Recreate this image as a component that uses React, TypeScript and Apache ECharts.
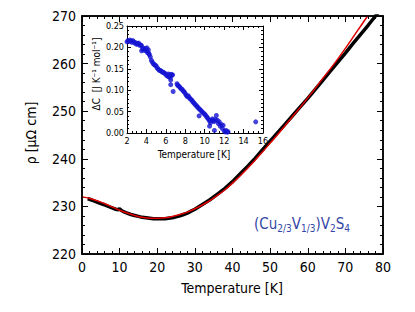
import React, { useEffect, useRef } from "react";
import * as echarts from "echarts";

// Main panel: measured resistivity (black) and fit (red)
const dataT = [1.5, 2, 3, 4, 5, 6, 7, 8, 9, 9.6, 10, 10.4, 11, 12, 13, 14, 15, 16, 17, 18, 19, 20, 21, 22, 23, 24, 25, 26, 27, 28, 29, 30, 32, 34, 36, 38, 40, 42, 44, 46, 48, 50, 52, 54, 56, 58, 60, 62, 64, 66, 68, 70, 72, 74, 76, 78, 79];
const dataRho = [231.6, 231.5, 231.2, 230.9, 230.6, 230.3, 230.0, 229.7, 229.4, 229.3, 229.5, 229.2, 228.9, 228.6, 228.3, 228.1, 227.9, 227.7, 227.6, 227.5, 227.4, 227.4, 227.4, 227.4, 227.5, 227.6, 227.8, 228.0, 228.3, 228.6, 229.0, 229.4, 230.4, 231.4, 232.6, 233.8, 235.2, 236.8, 238.4, 240.1, 241.9, 243.7, 245.5, 247.3, 249.1, 250.9, 252.7, 254.6, 256.5, 258.4, 260.3, 262.2, 264.2, 266.1, 268.0, 270.0, 271.0];

const fitT = [0, 2, 4, 6, 8, 10, 12, 14, 16, 18, 20, 22, 24, 26, 28, 30, 32, 34, 36, 38, 40, 42, 44, 46, 48, 50, 52, 54, 56, 58, 60, 62, 64, 66, 68, 70, 72, 74, 76, 78];
const fitRho = [232.0, 231.7, 231.2, 230.6, 229.9, 229.2, 228.6, 228.1, 227.7, 227.5, 227.5, 227.6, 227.9, 228.3, 228.8, 229.5, 230.3, 231.2, 232.3, 233.5, 234.9, 236.4, 238.0, 239.7, 241.5, 243.3, 245.1, 247.0, 248.9, 250.8, 252.8, 254.8, 256.9, 258.9, 261.0, 263.2, 265.5, 267.8, 270.1, 272.4];

// Inset: ΔC vs temperature
const insetT = [2.0, 2.1, 2.2, 2.3, 2.4, 2.5, 2.6, 2.7, 2.8, 2.9, 3.0, 3.1, 3.2, 3.3, 3.4, 3.5, 3.5, 3.6, 3.7, 3.8, 3.9, 4.0, 4.05, 4.1, 4.2, 4.25, 4.3, 4.4, 4.5, 4.6, 4.7, 4.8, 4.9, 5.0, 5.1, 5.2, 5.3, 5.4, 5.5, 5.6, 5.7, 5.8, 5.9, 6.0, 6.1, 6.2, 6.25, 6.3, 6.4, 6.45, 6.5, 6.55, 6.6, 6.7, 6.5, 6.5, 6.75, 7.15, 7.2, 7.3, 7.4, 7.5, 7.6, 7.7, 7.8, 7.9, 8.0, 8.1, 8.2, 8.3, 8.4, 8.5, 8.6, 8.7, 8.8, 8.9, 9.0, 9.1, 9.2, 9.3, 9.4, 9.42, 9.5, 9.6, 9.7, 9.8, 9.9, 10.0, 10.1, 10.2, 10.3, 10.4, 10.5, 10.5, 10.6, 10.7, 10.8, 10.9, 11.0, 11.0, 11.1, 11.2, 11.3, 11.4, 11.5, 11.6, 11.7, 11.8, 11.9, 12.0, 12.1, 12.2, 12.3, 12.4, 15.25];
const insetDC = [0.213, 0.216, 0.214, 0.217, 0.215, 0.212, 0.216, 0.213, 0.210, 0.211, 0.207, 0.209, 0.210, 0.205, 0.206, 0.204, 0.192, 0.196, 0.198, 0.193, 0.197, 0.192, 0.199, 0.188, 0.194, 0.186, 0.183, 0.178, 0.170, 0.166, 0.162, 0.160, 0.158, 0.157, 0.152, 0.150, 0.147, 0.146, 0.145, 0.143, 0.142, 0.141, 0.139, 0.137, 0.134, 0.133, 0.138, 0.131, 0.136, 0.130, 0.134, 0.137, 0.135, 0.136, 0.124, 0.113, 0.097, 0.115, 0.112, 0.110, 0.108, 0.105, 0.103, 0.101, 0.098, 0.096, 0.092, 0.088, 0.085, 0.087, 0.083, 0.080, 0.078, 0.076, 0.072, 0.070, 0.067, 0.065, 0.062, 0.060, 0.057, 0.040, 0.055, 0.053, 0.050, 0.048, 0.046, 0.044, 0.041, 0.038, 0.035, 0.032, 0.028, 0.016, 0.024, 0.030, 0.033, 0.028, 0.027, 0.006, 0.032, 0.041, 0.030, 0.022, 0.026, 0.016, 0.020, 0.011, 0.018, 0.005, 0.003, 0.006, 0.002, 0.003, 0.026];

const mainXTicks = { min: 0, max: 80, interval: 10 };
const mainYTicks = { min: 220, max: 270, interval: 10 };
const insetXTicks = { min: 2, max: 16, interval: 2 };
const insetYTicks = { min: 0, max: 0.25, interval: 0.05 };

const FONT = "DejaVu Sans Condensed";

export default function App() {
  const ref = useRef<HTMLDivElement>(null);
  useEffect(() => {
    if (!ref.current) return;
    document.body.style.margin = "0";
    const chart = echarts.init(ref.current, null, { renderer: "svg" });
    const mk = (
      gridIndex: number,
      pos: string,
      ticks: any,
      lineWidth: number,
      tickLen: number,
      fontSize: number,
      margin: number,
      showLabel: boolean,
      minorSplit: number,
      fmt?: (v: number) => string
    ) => ({
      type: "value",
      gridIndex,
      position: pos,
      ...ticks,
      axisLine: { show: true, onZero: false, lineStyle: { color: "#000", width: lineWidth } },
      axisTick: { show: true, inside: true, length: tickLen, lineStyle: { color: "#000", width: 1 } },
      minorTick: { show: true, splitNumber: minorSplit, length: Math.round(tickLen / 2), lineStyle: { color: "#000", width: 1 } },
      splitLine: { show: false },
      axisLabel: {
        show: true,
        fontFamily: FONT,
        fontSize,
        color: "#000",
        margin,
        formatter: showLabel ? (fmt ? fmt : (v: number) => String(v)) : () => "",
      },
    });
    const mainRect = { left: 82, top: 16, width: 301, height: 238 };
    const insetRect = { left: 127, top: 26, width: 136, height: 107 };
    chart.setOption({
      animation: false,
      backgroundColor: "#fff",
      grid: [
        { ...mainRect, show: false },
        { ...insetRect, show: false },
        { ...mainRect, show: false },
        { ...insetRect, show: false },
      ],
      xAxis: [
        mk(0, "bottom", mainXTicks, 1.5, 6, 14, 6, true, 5),
        mk(1, "bottom", insetXTicks, 1, 4, 9, 3, true, 4),
        mk(2, "top", mainXTicks, 1.5, 6, 9, 3, false, 5),
        mk(3, "top", insetXTicks, 1, 4, 9, 3, false, 4),
      ],
      yAxis: [
        mk(0, "left", mainYTicks, 1.5, 6, 14, 6, true, 5),
        mk(1, "left", insetYTicks, 1, 4, 9, 3, true, 5, (v: number) => v.toFixed(2)),
        mk(2, "right", mainYTicks, 1.5, 6, 9, 3, false, 5),
        mk(3, "right", insetYTicks, 1, 4, 9, 3, false, 5),
      ],
      series: [
        {
          type: "line",
          xAxisIndex: 0,
          yAxisIndex: 0,
          data: dataT.map((t, i) => [t, dataRho[i]]),
          showSymbol: false,
          lineStyle: { color: "#000", width: 3.5 },
          z: 2,
        },
        {
          type: "line",
          xAxisIndex: 2,
          yAxisIndex: 2,
          data: fitT.map((t, i) => [t, fitRho[i]]),
          showSymbol: false,
          smooth: 0.3,
          lineStyle: { color: "#e00000", width: 1.5 },
          z: 3,
        },
        {
          type: "scatter",
          xAxisIndex: 1,
          yAxisIndex: 1,
          data: insetT.map((t, i) => [t, insetDC[i]]),
          symbolSize: 5,
          itemStyle: { color: "#1414d2" },
          z: 5,
        },
      ],
    });

    // Frame of the main panel, placed through the library's own scales
    const tl = chart.convertToPixel({ gridIndex: 0 }, [mainXTicks.min, mainYTicks.max]) as number[];
    const br = chart.convertToPixel({ gridIndex: 0 }, [mainXTicks.max, mainYTicks.min]) as number[];

    chart.setOption({
      graphic: [
        {
          type: "rect",
          z: 100,
          silent: true,
          shape: { x: tl[0], y: tl[1], width: br[0] - tl[0], height: br[1] - tl[1] },
          style: { fill: "none", stroke: "#000", lineWidth: 1.5 },
        },
        {
          type: "text",
          x: 232,
          y: 288,
          style: { text: "Temperature [K]", fontFamily: FONT, fontSize: 14, fill: "#000", align: "center", verticalAlign: "middle" },
        },
        {
          type: "text",
          x: 31,
          y: 133,
          rotation: Math.PI / 2,
          style: { text: "ρ [μΩ cm]", fontFamily: FONT, fontSize: 14, fill: "#000", align: "center", verticalAlign: "middle" },
        },
        {
          type: "text",
          x: 194,
          y: 154,
          z: 10,
          style: { text: "Temperature [K]", fontFamily: FONT, fontSize: 10, fill: "#000", align: "center", verticalAlign: "middle" },
        },
        {
          type: "text",
          x: 96,
          y: 74,
          z: 10,
          rotation: Math.PI / 2,
          style: { text: "ΔC  [J K⁻¹ mol⁻¹]", fontFamily: FONT, fontSize: 10, fill: "#000", align: "center", verticalAlign: "middle" },
        },
        {
          type: "text",
          x: 302,
          y: 224,
          style: {
            text: "{a|(Cu}{s|2/3}{a|V}{s|1/3}{a|)V}{s|2}{a|S}{s|4}",
            align: "center",
            verticalAlign: "middle",
            rich: {
              a: { fontFamily: FONT, fontSize: 15, fill: "#3346a6", color: "#3346a6", lineHeight: 18 },
              s: { fontFamily: FONT, fontSize: 10, fill: "#3346a6", color: "#3346a6", lineHeight: 18, padding: [8, 0, 0, 0] },
            },
          },
        },
      ],
    });
    return () => chart.dispose();
  }, []);
  return <div ref={ref} style={{ width: 415, height: 312 }} />;
}
